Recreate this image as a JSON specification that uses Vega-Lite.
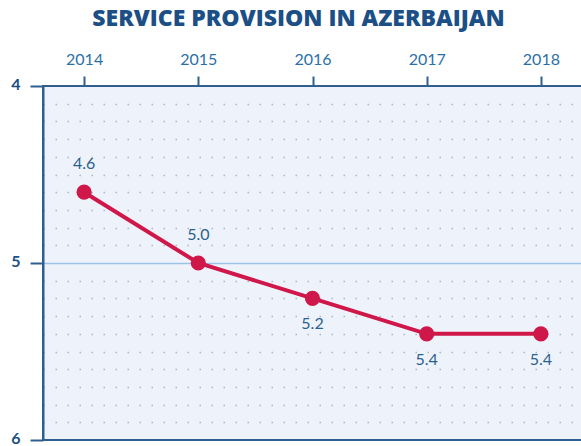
{
  "$schema": "https://vega.github.io/schema/vega-lite/v6.json",
  "width": 539,
  "height": 354,
  "autosize": "none",
  "padding": {"left": 43, "top": 86, "right": 0, "bottom": 6},
  "background": "white",
  "title": {
    "text": "SERVICE PROVISION IN AZERBAIJAN",
    "font": "Open Sans",
    "fontSize": 23,
    "fontWeight": 800,
    "color": "#1b4f86",
    "anchor": "middle",
    "dx": -14,
    "offset": 20
  },
  "config": {
    "view": {"fill": "#eef3fb", "stroke": "#2f5f8f", "strokeWidth": 2}
  },
  "data": {
    "values": [
      {"year": "2014", "value": 4.6},
      {"year": "2015", "value": 5.0},
      {"year": "2016", "value": 5.2},
      {"year": "2017", "value": 5.4},
      {"year": "2018", "value": 5.4}
    ]
  },
  "encoding": {
    "x": {
      "field": "year",
      "type": "ordinal",
      "scale": {"type": "point", "padding": 0.36},
      "axis": {
        "orient": "top",
        "title": null,
        "domain": false,
        "grid": false,
        "labelAngle": 0,
        "labelFont": "Lato",
        "labelFontSize": 16,
        "labelColor": "#2b6fa8",
        "labelPadding": 9,
        "tickColor": "#2f5f8f",
        "tickWidth": 2,
        "tickSize": 10
      }
    },
    "y": {
      "field": "value",
      "type": "quantitative",
      "scale": {"domain": [4, 6], "reverse": true, "nice": false, "zero": false},
      "axis": {
        "title": null,
        "values": [4, 4.1, 4.2, 4.3, 4.4, 4.5, 4.6, 4.7, 4.8, 4.9, 5, 5.1, 5.2, 5.3, 5.4, 5.5, 5.6, 5.7, 5.8, 5.9, 6],
        "labelExpr": "datum.value % 1 === 0 ? format(datum.value, 'd') : ''",
        "labelFont": "Lato",
        "labelFontSize": 16,
        "labelFontWeight": "bold",
        "labelColor": "#1b4f86",
        "labelPadding": 10,
        "labelOffset": -2,
        "domainColor": "#2f5f8f",
        "domainWidth": 2,
        "tickColor": "#2f5f8f",
        "tickWidth": 2,
        "tickSize": 13,
        "tickOpacity": {"condition": {"test": "datum.value % 1 === 0", "value": 1}, "value": 0},
        "grid": true,
        "gridColor": {"condition": {"test": "datum.value === 5", "value": "#9cc3e6"}, "value": "#aab6c8"},
        "gridDash": {"condition": {"test": "datum.value === 5", "value": []}, "value": [1.5, 10.5]},
        "gridWidth": {"condition": {"test": "datum.value === 5", "value": 1.5}, "value": 1.5},
        "gridOpacity": {"condition": {"test": "datum.value === 4 || datum.value === 6", "value": 0}, "value": 1}
      }
    }
  },
  "layer": [
    {
      "mark": {"type": "line", "color": "#d0174a", "strokeWidth": 4}
    },
    {
      "mark": {"type": "point", "filled": true, "color": "#d0174a", "size": 230, "opacity": 1}
    },
    {
      "transform": [{"filter": "datum.year === '2014' || datum.year === '2015'"}],
      "mark": {"type": "text", "dy": -28, "font": "Lato", "fontSize": 16, "color": "#2b5f8e"},
      "encoding": {"text": {"field": "value", "type": "quantitative", "format": ".1f"}}
    },
    {
      "transform": [{"filter": "datum.year !== '2014' && datum.year !== '2015'"}],
      "mark": {"type": "text", "dy": 26, "font": "Lato", "fontSize": 16, "color": "#2b5f8e"},
      "encoding": {"text": {"field": "value", "type": "quantitative", "format": ".1f"}}
    }
  ]
}
